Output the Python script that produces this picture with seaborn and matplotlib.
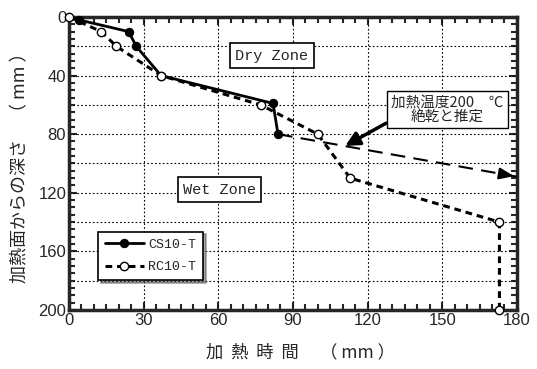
import matplotlib
matplotlib.use("Agg")
import matplotlib.pyplot as plt
import seaborn as sns
import pandas as pd
from matplotlib.ticker import MultipleLocator

# data
cs_time = [4, 24, 27, 37, 82, 84]
cs_depth = [2, 10, 20, 40, 59, 80]
rc_time = [0, 13, 19, 37, 77, 100, 113, 173, 173]
rc_depth = [0, 10, 20, 40, 60, 80, 110, 140, 200]
est_time = [84, 180]
est_depth = [80, 109]
x_ticks = [0, 30, 60, 90, 120, 150, 180]
y_ticks = [0, 40, 80, 120, 160, 200]

sns.set_style("ticks")
plt.rcParams['font.family'] = ['Liberation Sans', 'DejaVu Sans']
jp = ['Noto Sans CJK JP', 'DejaVu Sans']
mono = ['Liberation Mono', 'DejaVu Sans Mono']

df_cs = pd.DataFrame({"t": cs_time, "d": cs_depth})
df_rc = pd.DataFrame({"t": rc_time, "d": rc_depth})

fig = plt.figure(figsize=(5.37, 3.69), dpi=100)
ax = fig.add_axes([0.1285, 0.16, 0.834, 0.794])

sns.lineplot(data=df_cs, x="t", y="d", sort=False, estimator=None, ax=ax,
             color="black", lw=2, marker="o", markersize=6,
             markerfacecolor="black", markeredgecolor="black",
             label="CS10-T", clip_on=False, zorder=5)
sns.lineplot(data=df_rc, x="t", y="d", sort=False, estimator=None, ax=ax,
             color="black", lw=2.2, ls=(0, (2.2, 1.6)), marker="o", markersize=6,
             markerfacecolor="white", markeredgecolor="black", markeredgewidth=1,
             label="RC10-T", clip_on=False, zorder=6)

# estimated dry front (long dashes with arrow head)
ax.plot(est_time, est_depth, color="black", lw=1.5, ls=(0, (7, 4)), zorder=4)
ax.annotate("", xy=(est_time[1], est_depth[1]), xytext=(est_time[1] - 6, est_depth[1] - 1.8),
            arrowprops=dict(arrowstyle="-|>,head_length=0.9,head_width=0.35",
                            color="black", lw=1.5), annotation_clip=False)

ax.annotate("加熱温度200　℃\n絶乾と推定", xy=(111, 88), xytext=(152, 63),
            ha="center", va="center", fontsize=10.5, family=jp, linespacing=1.0,
            bbox=dict(boxstyle="square,pad=0.3", fc="white", ec="black", lw=1),
            arrowprops=dict(arrowstyle="-|>,head_length=0.8,head_width=0.4",
                            color="black", lw=2.5, shrinkA=0, shrinkB=0,
                            relpos=(0, 0.1)))

ax.text(81.5, 26.5, "Dry Zone", ha="center", va="center", fontsize=11, family=mono,
        bbox=dict(boxstyle="square,pad=0.35", fc="white", ec="black", lw=1.2))
ax.text(60.5, 118, "Wet Zone", ha="center", va="center", fontsize=11, family=mono,
        bbox=dict(boxstyle="square,pad=0.35", fc="white", ec="black", lw=1.2))

ax.set_xlim(0, 180)
ax.set_ylim(200, 0)
ax.set_xticks(x_ticks)
ax.set_yticks(y_ticks)
ax.xaxis.set_minor_locator(MultipleLocator(5))
ax.yaxis.set_minor_locator(MultipleLocator(5))
ax.tick_params(which="both", direction="in", top=True, right=True, width=1.5)
ax.tick_params(which="major", length=6, labelsize=12, pad=2)
ax.tick_params(which="minor", length=4)
for s in ax.spines.values():
    s.set_linewidth(2.5)

for v in [30, 60, 90, 120, 150]:
    ax.axvline(v, color="black", lw=0.8, ls=(0, (1.5, 2)), zorder=1)
for v in range(20, 200, 20):
    ax.axhline(v, color="black", lw=0.8, ls=(0, (1.5, 2)), zorder=1)

ax.set_xlabel("加  熱  時  間　 （ mm ）", family=jp, fontsize=12.5)
ax.set_ylabel("加熱面からの深さ　（ mm ）", family=jp, fontsize=13)
ax.xaxis.set_label_coords(0.516, -0.115)
ax.yaxis.set_label_coords(-0.088, 0.5)

leg = ax.legend(loc="lower left", bbox_to_anchor=(0.05, 0.08), frameon=True,
                fancybox=False, shadow=True, edgecolor="black", handlelength=3.0,
                borderpad=0.5, labelspacing=0.8, handletextpad=0.3,
                prop={"family": mono, "size": 9.5})
leg.get_frame().set_linewidth(1.2)

fig.savefig("out.png", dpi=100)
